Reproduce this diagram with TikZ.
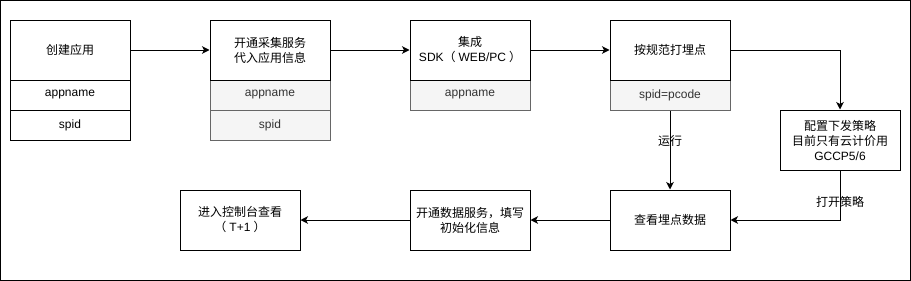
\documentclass[tikz,border=0pt]{standalone}
\usepackage{fontspec}
\setmainfont{Liberation Sans}
\newfontfamily\cjk{Noto Sans CJK SC}
\usetikzlibrary{arrows.meta}
\newcommand{\zh}[1]{{\cjk #1}}
\definecolor{rowfill}{HTML}{F5F5F5}
\definecolor{rowline}{HTML}{666666}
\definecolor{rowtext}{HTML}{333333}
\begin{document}
\begin{tikzpicture}[x=1pt,y=-1pt,
  every node/.style={font=\fontsize{12}{15}\selectfont},
  box/.style={draw,line width=1pt,minimum width=120pt,minimum height=60pt,inner sep=0pt,align=center},
  row/.style={draw,line width=1pt,minimum width=120pt,minimum height=30pt,inner sep=0pt,align=center},
  grayrow/.style={row,fill=rowfill,draw=rowline,text=rowtext},
  arr/.style={line width=1pt,-{Stealth[length=7.5pt,width=7.5pt,inset=2pt]}},
  lbl/.style={inner sep=0pt}]
\useasboundingbox (0,0) rectangle (911,281);
\draw[line width=1pt] (0.5,0.5) rectangle (910.5,280.5);
% column 1
\node[box] (h1) at (70,50) {\zh{创建应用}};
\node[row] (r1a) at (70,95) {appname};
\node[row] (r1b) at (70,125) {spid};
% column 2
\node[grayrow] (r2a) at (270,95) {appname};
\node[grayrow] (r2b) at (270,125) {spid};
\node[box] (h2) at (270,50) {\zh{开通采集服务}\\\zh{代入应用信息}};
% column 3
\node[grayrow] (r3a) at (470,95) {appname};
\node[box] (h3) at (470,50) {\zh{集成}\\SDK\zh{（}\kern3pt WEB/PC\kern3pt\zh{）}};
% column 4
\node[grayrow] (r4a) at (670,95) {spid=pcode};
\node[box] (h4) at (670,50) {\zh{按规范打埋点}};
% strategy
\node[box] (b5) at (840,140) {\zh{配置下发策略}\\\zh{目前只有云计价用}\\GCCP5/6};
% bottom row
\node[box] (b6) at (670,220) {\zh{查看埋点数据}};
\node[box] (b7) at (470,220) {\zh{开通数据服务，填写}\\\zh{初始化信息}};
\node[box] (b8) at (240,220) {\zh{进入控制台查看}\\\zh{（}\kern3pt T+1\kern3pt\zh{）}};
% connectors
\draw[arr] (h1.east) -- (h2.west);
\draw[arr] (h2.east) -- (h3.west);
\draw[arr] (h3.east) -- (h4.west);
\draw[arr] (h4.east) -| (b5.north);
\draw[arr] (r4a.south) -- node[lbl,pos=0.39] {\zh{运行}} (b6.north);
\draw[arr] (b5.south) |- node[lbl,pos=0.32] {\zh{打开策略}} (b6.east);
\draw[arr] (b6.west) -- (b7.east);
\draw[arr] (b7.west) -- (b8.east);
\end{tikzpicture}
\end{document}
